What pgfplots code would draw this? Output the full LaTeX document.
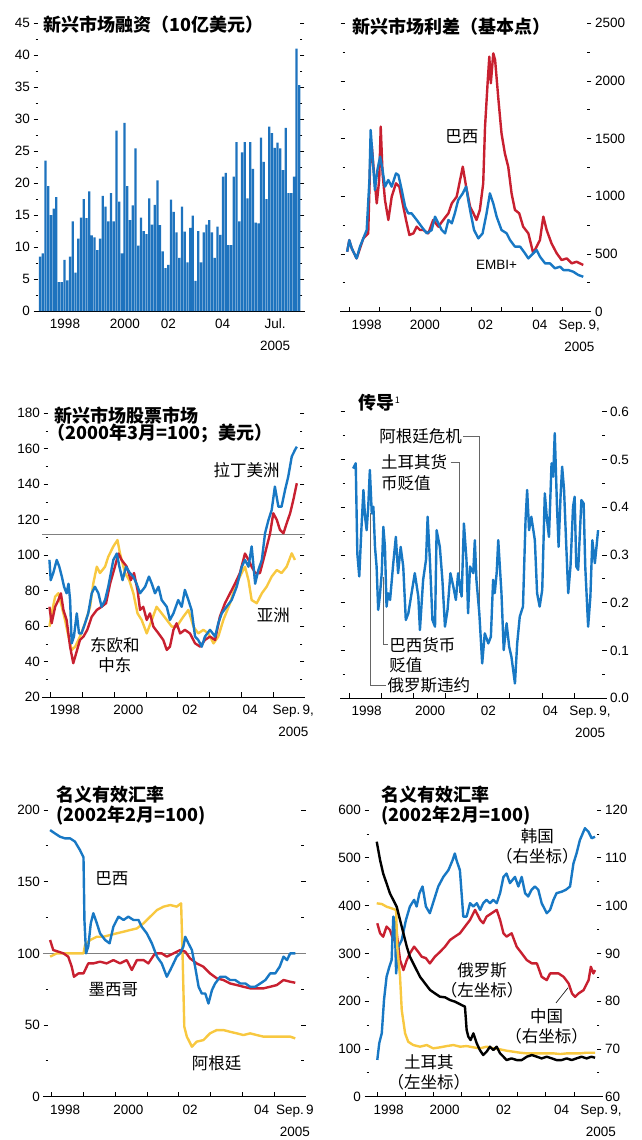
\documentclass[border=0pt]{standalone}
\usepackage{fontspec}
\setmainfont{Liberation Sans}
\newfontfamily\cjk{Noto Sans CJK SC}
\usepackage{pgfplots}
\pgfplotsset{compat=1.18}

\definecolor{ecoblue}{HTML}{1878C4}
\definecolor{ecored}{HTML}{C82030}
\definecolor{ecoyellow}{HTML}{F8C840}
\definecolor{barblue}{HTML}{1E73BE}

\newcommand\numfont{\fontsize{13.5}{22}\selectfont}
\newcommand\titlefont{\cjk\bfseries\fontsize{18}{20}\selectfont}
\newcommand\labfont{\cjk\fontsize{16.5}{20}\selectfont}

\tikzset{leader/.style={gray!80!black, line width=0.7pt}}
\pgfplotsset{
  econ/.style={
    scale only axis, clip=false,
    axis line style={draw=none},
    every tick/.style={black, line width=0.8pt},
    ytick align=outside,
    major tick length=4.5pt, minor tick length=2.5pt,
    minor y tick num=1,
    ytick pos=both,
    xtick=\empty,
    tick label style={font=\numfont, /pgf/number format/assume math mode=true},
    /pgf/number format/1000 sep={},
    extra x tick style={major tick length=0pt,
      xticklabel style={align=center, anchor=north, inner sep=0pt, yshift=-8pt}},
  },
  eline/.style={line width=2.4pt, line join=round, mark=none},
}
% base line, drawn a little wider than the plot area
\newcommand\baseaxis[2]{\draw[line width=0.9pt, shorten <=-#1pt, shorten >=-#2pt] (rel axis cs:0,0) -- (rel axis cs:1,0);}
% year boundary ticks, pointing up from the base line
\newcommand\yearticks{\pgfplotsinvokeforeach{1998,...,2005}{\draw[line width=0.8pt] ({axis cs:##1,0}|-{rel axis cs:0,0}) -- ++(0pt,5pt);}}

\begin{document}
\begin{tikzpicture}
\useasboundingbox (0,0) rectangle (641pt,-1140pt);

% ---------- emerging-market financing (bars)
\begin{axis}[econ, at={(38pt,-311pt)}, anchor=south west, width=262pt, height=288pt,
  xmin=-0.73, xmax=95.24, ymin=0, ymax=45, ytick={0,5,...,45}, yticklabel pos=left,
  extra x ticks={9.16,31.1,47.0,66.9,86.1},
  extra x tick labels={1998,2000,02,04,{Jul.\\2005}}]
\baseaxis{3}{5}
\addplot[ybar, bar width=2.25pt, fill=barblue, draw=none] coordinates {
(0,8.5)(1,9)(2,23.5)(3,19.5)(4,15)(5,16)(6,17.8)(7,4.5)(8,4.5)(9,8)
(10,4.8)(11,8.5)(12,14)(13,6)(14,11.3)(15,14.6)(16,17.5)(17,14.5)(18,18.7)(19,11.8)
(20,11.5)(21,9.5)(22,11.3)(23,18)(24,16.3)(25,14)(26,18.4)(27,14)(28,28.2)(29,17.1)
(30,9)(31,29.4)(32,19.5)(33,14.2)(34,16.5)(35,25.4)(36,10.2)(37,14.6)(38,12.5)(39,12)
(40,17.6)(41,13.5)(42,16.6)(43,20.4)(44,13.4)(45,9.3)(46,6.7)(47,7.2)(48,17.4)(49,15.5)
(50,12.3)(51,8.3)(52,16.3)(53,12.4)(54,7.6)(55,13)(56,14.9)(57,4.7)(58,12.5)(59,7.6)
(60,12.3)(61,13.5)(62,14.2)(63,12.3)(64,8.3)(65,13.2)(66,11.9)(67,21)(68,21.6)(69,10.3)
(70,10.3)(71,21)(72,26.4)(73,14)(74,24.8)(75,26.4)(76,17.6)(77,26.4)(78,22.2)(79,13.8)
(80,13.7)(81,27.1)(82,23.3)(83,17.5)(84,28.8)(85,27.8)(86,25.5)(87,26.3)(88,25.4)(89,22)
(90,28.6)(91,18.4)(92,18.4)(93,21)(94,41)(95,35.3)};
\node[anchor=west, font=\titlefont, fill=white, inner sep=1pt] at (rel axis cs:0.015,0.995) {新兴市场融资（10亿美元）};
\end{axis}

% ---------- spreads
\begin{axis}[econ, at={(345pt,-311.7pt)}, anchor=south west, width=242pt, height=288.4pt,
  xmin=1997.859, xmax=2005.793, ymin=0, ymax=2500, ytick={0,500,...,2500}, yticklabel pos=right,
  extra x ticks={1998.57,2000.48,2002.47,2004.25,2005.54},
  extra x tick labels={1998,2000,02,04,{Sep.\,9,\\2005}}]
\baseaxis{5}{4}
\yearticks
\addplot[eline, ecored] coordinates {
(1997.93,520)(1998.00,620)(1998.08,549)(1998.24,462)(1998.46,636)(1998.62,679)(1998.68,1257)
(1998.73,1460)(1998.81,1199)(1998.90,939)(1998.98,1142)(1999.03,1604)(1999.09,1199)(1999.17,968)
(1999.28,795)(1999.39,997)(1999.53,1113)(1999.64,1084)(1999.75,939)(1999.86,795)(1999.97,665)
(2000.10,679)(2000.21,737)(2000.32,708)(2000.43,708)(2000.59,679)(2000.75,795)(2000.92,737)
(2001.08,795)(2001.25,853)(2001.36,939)(2001.52,997)(2001.72,1257)(2001.83,1084)(2001.96,910)
(2002.07,853)(2002.17,795)(2002.28,882)(2002.39,1113)(2002.45,1604)(2002.54,2009)(2002.59,2211)
(2002.64,1980)(2002.72,2240)(2002.78,2182)(2002.89,1835)(2002.99,1546)(2003.10,1373)(2003.21,1257)
(2003.32,1026)(2003.43,882)(2003.57,853)(2003.70,737)(2003.87,679)(2004.03,506)(2004.14,564)
(2004.25,621)(2004.36,824)(2004.47,708)(2004.63,592)(2004.80,506)(2004.96,448)(2005.13,462)
(2005.29,419)(2005.45,433)(2005.67,405)};
\addplot[eline, ecoblue] coordinates {
(1997.93,520)(1998.00,620)(1998.08,549)(1998.24,462)(1998.35,564)(1998.46,636)(1998.57,708)
(1998.66,1142)(1998.70,1575)(1998.77,1315)(1998.84,1055)(1998.92,1228)(1999.01,1344)(1999.09,1228)
(1999.17,1084)(1999.28,1142)(1999.39,1084)(1999.53,1199)(1999.61,1185)(1999.72,1055)(1999.83,910)
(1999.93,853)(2000.04,853)(2000.21,795)(2000.37,737)(2000.54,679)(2000.70,708)(2000.81,824)
(2000.92,766)(2001.03,708)(2001.14,679)(2001.25,795)(2001.36,766)(2001.46,853)(2001.57,968)
(2001.72,1026)(2001.83,1084)(2001.90,968)(2001.98,853)(2002.09,708)(2002.23,636)(2002.37,679)
(2002.50,853)(2002.61,1026)(2002.72,939)(2002.83,824)(2002.99,708)(2003.16,679)(2003.27,621)
(2003.43,564)(2003.60,564)(2003.76,506)(2003.87,462)(2004.03,506)(2004.14,535)(2004.25,477)
(2004.42,419)(2004.58,419)(2004.74,376)(2004.91,390)(2005.02,361)(2005.18,361)(2005.34,347)
(2005.51,318)(2005.67,303)};
\node[anchor=west, font=\titlefont, fill=white, inner sep=1pt] at (rel axis cs:0.025,0.99) {新兴市场利差（基本点）};
\node[font=\labfont] at (axis cs:2001.69,1517) {巴西};
\node[font=\numfont] at (axis cs:2002.83,405) {EMBI+};
\end{axis}

% ---------- equity markets
\begin{axis}[econ, at={(48pt,-697.3pt)}, anchor=south west, width=252pt, height=284pt,
  xmin=1997.915, xmax=2005.84, ymin=20, ymax=180, ytick={20,40,...,180}, yticklabel pos=left,
  extra x ticks={1998.45,2000.44,2002.38,2004.27,2005.63},
  extra x tick labels={1998,2000,02,04,{Sep.\,9,\\2005}}]
\baseaxis{6}{5}
\yearticks
\draw[gray, line width=0.8pt, shorten <=-6pt, shorten >=-5pt] (axis cs:1997.915,112) -- (axis cs:2005.84,112);
\addplot[eline, ecoyellow] coordinates {
(1997.96,59.8)(1998.03,67.3)(1998.14,76.7)(1998.24,78.6)(1998.35,71)(1998.45,63.6)(1998.56,54.2)
(1998.66,46.7)(1998.77,48.5)(1998.92,54.2)(1999.08,61.7)(1999.24,71.1)(1999.34,84.2)(1999.45,93.6)
(1999.55,90)(1999.71,93.6)(1999.81,99.2)(1999.97,105)(2000.10,108.6)(2000.18,101)(2000.34,90)
(2000.47,86)(2000.60,78.6)(2000.73,67.3)(2000.86,63.6)(2001.02,56)(2001.18,63.6)(2001.33,71)
(2001.49,67.3)(2001.65,63.6)(2001.81,59.8)(2001.96,59.8)(2002.17,65.4)(2002.33,69.2)(2002.49,59.8)
(2002.64,56)(2002.80,58)(2002.96,56)(2003.12,50.4)(2003.27,54.2)(2003.43,63.6)(2003.64,73)
(2003.80,82.3)(2003.95,88)(2004.11,93.6)(2004.22,86)(2004.32,74.8)(2004.48,73)(2004.64,78.6)
(2004.79,82.3)(2004.95,88)(2005.11,91.7)(2005.26,90)(2005.42,93.6)(2005.58,101.1)(2005.68,97.4)};
\addplot[eline, ecored] coordinates {
(1997.96,71)(1998.03,61.7)(1998.14,71)(1998.24,74.8)(1998.32,78.6)(1998.40,69.2)(1998.50,63.6)
(1998.61,48.5)(1998.71,39.2)(1998.80,44.8)(1998.92,52.3)(1999.03,54.2)(1999.15,58)(1999.29,65.4)
(1999.45,69.2)(1999.60,71)(1999.74,73)(1999.87,84.2)(2000.02,93.6)(2000.13,101)(2000.23,97.4)
(2000.39,93.6)(2000.52,86)(2000.62,90)(2000.73,80.5)(2000.81,69.2)(2000.91,71)(2001.02,63.6)
(2001.12,67.3)(2001.23,59.8)(2001.39,56)(2001.54,52.3)(2001.65,46.7)(2001.75,48.5)(2001.86,58)
(2001.96,61.7)(2002.07,56)(2002.22,58)(2002.38,56)(2002.54,50.4)(2002.70,48.5)(2002.85,52.3)
(2003.01,54.2)(2003.17,52.3)(2003.32,65.4)(2003.48,73)(2003.64,78.6)(2003.80,84.2)(2003.95,90)
(2004.11,101)(2004.22,97.4)(2004.32,93.6)(2004.43,90)(2004.58,90)(2004.74,101)(2004.90,112.4)
(2005.00,123.7)(2005.11,120)(2005.21,114.3)(2005.32,112.4)(2005.42,118)(2005.53,123.7)
(2005.63,131.2)(2005.74,140.6)};
\addplot[eline, ecoblue] coordinates {
(1997.96,97.4)(1998.00,86)(1998.08,90)(1998.19,97.4)(1998.27,93.6)(1998.35,88)(1998.42,82.3)
(1998.50,78.6)(1998.56,84)(1998.61,74.8)(1998.66,50.4)(1998.73,54.2)(1998.82,67.3)(1998.89,56)
(1998.97,56)(1999.08,61.7)(1999.18,67.3)(1999.29,78.6)(1999.39,82.3)(1999.50,78.6)(1999.60,71)
(1999.71,74.8)(1999.81,82.3)(1999.97,97.4)(2000.08,101)(2000.16,93.6)(2000.26,86)(2000.37,93.6)
(2000.49,90)(2000.60,88)(2000.70,84)(2000.81,78.6)(2000.97,82.3)(2001.09,88)(2001.18,84)
(2001.28,78.6)(2001.39,82.3)(2001.49,74.8)(2001.65,71)(2001.75,63.6)(2001.86,67.3)(2002.01,74.8)
(2002.12,71)(2002.22,80.5)(2002.33,74.8)(2002.43,69.2)(2002.54,54.2)(2002.64,52.3)(2002.75,48.5)
(2002.85,54.2)(2003.01,58)(2003.17,54.2)(2003.27,61.7)(2003.38,67.3)(2003.53,71)(2003.69,74.8)
(2003.85,82.3)(2004.01,93.6)(2004.11,97.4)(2004.22,93.6)(2004.32,105)(2004.43,84)(2004.53,91.7)
(2004.64,97.4)(2004.74,112.4)(2004.85,120)(2004.95,125.5)(2005.05,138.7)(2005.16,127.4)
(2005.26,127.4)(2005.37,136.8)(2005.47,144.3)(2005.58,155.6)(2005.68,159.3)(2005.74,161.2)};
\node[anchor=west, font=\titlefont, fill=white, inner sep=1pt] at (rel axis cs:0.02,0.993) {新兴市场股票市场};
\node[anchor=west, font=\titlefont, inner sep=1pt] at (rel axis cs:-0.005,0.928) {（2000年3月=100；美元）};
\node[font=\labfont] at (axis cs:2004.16,148) {拉丁美洲};
\node[font=\labfont] at (axis cs:2005.0,66.4) {亚洲};
\node[font=\labfont, align=center] at (axis cs:2000.02,43.9) {东欧和\\中东};
\end{axis}

% ---------- contagion
\begin{axis}[econ, at={(345pt,-698.3pt)}, anchor=south west, width=257pt, height=286.6pt,
  xmin=1997.866, xmax=2005.872, ymin=0, ymax=0.6, ytick={0,0.1,...,0.6}, yticklabel pos=right,
  yticklabel style={/pgf/number format/.cd, fixed, fixed zerofill, precision=1},
  extra x ticks={1998.54,2000.52,2002.33,2004.26,2005.5},
  extra x tick labels={1998,2000,02,04,{Sep.\,9,\\2005}}]
\baseaxis{5}{1}
\yearticks
\draw[leader] (axis cs:1998.66,0.387) -- (axis cs:1998.66,0.028) -- (axis cs:1999.14,0.028);
\draw[leader] (axis cs:1999.06,0.255) -- (axis cs:1999.06,0.112) -- (axis cs:1999.19,0.112);
\draw[leader] (axis cs:2001.16,0.495) -- (axis cs:2001.42,0.495) -- (axis cs:2001.42,0.220);
\draw[leader] (axis cs:2001.55,0.548) -- (axis cs:2002.05,0.548) -- (axis cs:2002.05,0.178);
\addplot[eline, ecoblue] coordinates {
(1998.12,0.481)(1998.20,0.492)(1998.25,0.303)(1998.31,0.255)(1998.38,0.359)(1998.44,0.436)
(1998.49,0.380)(1998.54,0.352)(1998.59,0.401)(1998.64,0.478)(1998.70,0.387)(1998.75,0.401)
(1998.80,0.317)(1998.85,0.276)(1998.90,0.185)(1998.95,0.213)(1999.01,0.262)(1999.06,0.359)
(1999.11,0.317)(1999.16,0.192)(1999.21,0.220)(1999.27,0.206)(1999.37,0.283)(1999.45,0.338)
(1999.52,0.262)(1999.60,0.317)(1999.68,0.276)(1999.76,0.164)(1999.84,0.178)(1999.94,0.220)
(2000.04,0.262)(2000.15,0.213)(2000.20,0.143)(2000.30,0.248)(2000.39,0.290)(2000.44,0.380)
(2000.51,0.290)(2000.59,0.164)(2000.67,0.150)(2000.72,0.352)(2000.82,0.317)(2000.90,0.248)
(2000.98,0.150)(2001.06,0.185)(2001.15,0.262)(2001.24,0.234)(2001.32,0.206)(2001.39,0.262)
(2001.50,0.213)(2001.57,0.366)(2001.65,0.290)(2001.70,0.178)(2001.76,0.276)(2001.86,0.262)
(2001.91,0.331)(2001.96,0.248)(2002.05,0.178)(2002.14,0.073)(2002.22,0.136)(2002.33,0.115)
(2002.41,0.129)(2002.48,0.248)(2002.53,0.220)(2002.59,0.262)(2002.64,0.331)(2002.74,0.220)
(2002.81,0.101)(2002.90,0.157)(2002.98,0.108)(2003.05,0.087)(2003.16,0.031)(2003.23,0.115)
(2003.31,0.171)(2003.41,0.192)(2003.49,0.373)(2003.54,0.436)(2003.60,0.352)(2003.67,0.380)
(2003.78,0.331)(2003.85,0.220)(2003.93,0.192)(2004.01,0.227)(2004.09,0.429)(2004.16,0.373)
(2004.22,0.338)(2004.30,0.492)(2004.35,0.464)(2004.40,0.555)(2004.47,0.401)(2004.52,0.317)
(2004.58,0.422)(2004.63,0.485)(2004.69,0.436)(2004.76,0.317)(2004.82,0.220)(2004.89,0.276)
(2004.97,0.401)(2005.02,0.422)(2005.07,0.276)(2005.13,0.269)(2005.23,0.415)(2005.30,0.408)
(2005.35,0.276)(2005.44,0.150)(2005.51,0.213)(2005.57,0.331)(2005.65,0.283)(2005.70,0.317)
(2005.75,0.352)};
\node[anchor=west, font=\titlefont] at (rel axis cs:0.04,1.03) {传导\raisebox{6pt}{\mdseries\fontsize{9}{9}\selectfont 1}};
\node[anchor=west, font=\labfont, inner sep=1pt] at (axis cs:1998.90,0.548) {阿根廷危机};
\node[anchor=west, font=\labfont, inner sep=1pt] at (axis cs:1998.95,0.495) {土耳其货};
\node[anchor=west, font=\labfont, inner sep=1pt] at (axis cs:1998.95,0.450) {币贬值};
\node[anchor=west, font=\labfont, inner sep=1pt] at (axis cs:1999.21,0.112) {巴西货币};
\node[anchor=west, font=\labfont, inner sep=1pt] at (axis cs:1999.21,0.070) {贬值};
\node[anchor=west, font=\labfont, inner sep=1pt] at (axis cs:1999.16,0.028) {俄罗斯违约};
\end{axis}

% ---------- Latin American NEER
\begin{axis}[econ, at={(48pt,-1096.7pt)}, anchor=south west, width=253pt, height=286.7pt,
  xmin=1997.884, xmax=2005.84, ymin=0, ymax=200, ytick={0,50,...,200}, yticklabel pos=left,
  extra x ticks={1998.42,2000.41,2002.35,2004.6,2005.65},
  extra x tick labels={1998,2000,02,04,{Sep.\,9\\2005}}]
\baseaxis{5}{5}
\yearticks
\draw[gray, line width=0.8pt, shorten <=-5pt, shorten >=-5pt] (axis cs:1997.884,100) -- (axis cs:2005.84,100);
\addplot[eline, ecoyellow] coordinates {
(1997.95,97.7)(1998.16,100)(1998.47,100)(1998.79,100)(1999.00,100)(1999.05,105.8)(1999.21,109.3)
(1999.42,111.6)(1999.63,111.6)(1999.84,112.8)(2000.05,114)(2000.26,115.1)(2000.47,116.3)
(2000.68,117.4)(2000.89,121)(2001.10,125.6)(2001.31,130.2)(2001.52,132.6)(2001.73,133.7)
(2001.93,132.6)(2002.07,134.9)(2002.12,95.3)(2002.17,48.8)(2002.25,41.9)(2002.41,34.9)
(2002.56,38.4)(2002.77,39.5)(2002.98,44.2)(2003.19,46.5)(2003.40,46.5)(2003.61,45.3)(2003.82,44.2)
(2004.03,43)(2004.24,44.2)(2004.45,43)(2004.66,41.9)(2004.87,41.9)(2005.08,41.9)(2005.29,41.9)
(2005.50,41.9)(2005.66,40.7)};
\addplot[eline, ecored] coordinates {
(1997.95,109.3)(1998.05,102.3)(1998.21,101.2)(1998.37,100)(1998.52,97.7)(1998.63,90.7)(1998.70,83.7)
(1998.84,86)(1999.00,86)(1999.15,93)(1999.31,93)(1999.52,94.2)(1999.73,93)(1999.94,95.3)
(2000.15,93)(2000.36,95.3)(2000.52,88.4)(2000.68,95.3)(2000.89,95.3)(2001.04,93)(2001.25,100)
(2001.46,100)(2001.62,97.7)(2001.83,100)(2002.04,102.3)(2002.20,101.2)(2002.35,96.5)(2002.56,93)
(2002.77,90.7)(2002.98,86)(2003.19,82.6)(2003.40,81.4)(2003.61,79)(2003.82,77.9)(2004.03,76.7)
(2004.24,75.6)(2004.45,75.6)(2004.66,75.6)(2004.87,76.7)(2005.08,77.9)(2005.29,81.4)(2005.50,80.2)
(2005.66,79.5)};
\addplot[eline, ecoblue] coordinates {
(1997.95,186)(1998.10,183.7)(1998.26,181.4)(1998.42,180.2)(1998.58,180.2)(1998.73,178)(1998.89,172)
(1999.00,167)(1999.03,123)(1999.08,100)(1999.15,104.7)(1999.23,121)(1999.31,128)(1999.42,121)
(1999.52,114)(1999.68,109.3)(1999.82,107)(1999.94,118.6)(2000.10,125.6)(2000.26,123.3)(2000.41,125.6)
(2000.57,123.3)(2000.73,123.3)(2000.83,118.6)(2000.99,114)(2001.15,107)(2001.31,97.7)(2001.46,93)
(2001.62,83.7)(2001.73,88.4)(2001.83,93)(2001.93,97.7)(2002.04,100)(2002.14,104.7)(2002.20,111.6)
(2002.30,107)(2002.41,102.3)(2002.51,90.7)(2002.62,76.7)(2002.72,72)(2002.83,72)(2002.93,65)
(2003.04,74.4)(2003.14,79)(2003.30,83.7)(2003.46,83.7)(2003.61,81.4)(2003.77,81.4)(2003.93,79)
(2004.09,79)(2004.24,76.7)(2004.40,76.7)(2004.56,79)(2004.72,81.4)(2004.87,86)(2005.03,86)
(2005.17,90.7)(2005.29,97.7)(2005.40,95.3)(2005.50,100)(2005.66,100)};
\node[anchor=west, font=\titlefont] at (rel axis cs:0.02,1.052) {名义有效汇率};
\node[anchor=west, font=\titlefont] at (rel axis cs:0.02,0.982) {(2002年2月=100)};
\node[font=\labfont] at (axis cs:1999.89,152.4) {巴西};
\node[font=\labfont] at (axis cs:1999.94,74.4) {墨西哥};
\node[font=\labfont] at (axis cs:2003.19,23.3) {阿根廷};
\end{axis}

% ---------- Asian / other NEER, right scale
\begin{axis}[econ, at={(369pt,-1096.7pt)}, anchor=south west, width=228pt, height=286.7pt,
  xmin=1997.705, xmax=2005.819, ymin=60, ymax=120, ytick={60,70,...,120},
  ytick pos=right, yticklabel pos=right,
  extra x ticks={1998.4,2000.4,2002.5,2004.56,2005.8},
  extra x tick labels={1998,2000,02,04,{\hspace*{9pt}Sep.\,9,\\\hspace*{9pt}2005}}]
\baseaxis{1}{6}
\yearticks
\addplot[eline, ecored] coordinates {
(1998.00,96.3)(1998.10,94.2)(1998.21,93.5)(1998.33,95.6)(1998.45,94.9)(1998.57,92.8)(1998.69,94.2)
(1998.81,88.6)(1998.93,86.5)(1999.05,88.6)(1999.16,90)(1999.31,91.4)(1999.46,90.3)(1999.58,89.3)
(1999.73,89)(1999.87,87.9)(2000.05,89.3)(2000.23,90.3)(2000.41,91.4)(2000.59,92.8)(2000.76,93.5)
(2000.94,94.2)(2001.12,95.6)(2001.30,97)(2001.48,99.1)(2001.66,97)(2001.77,96.3)(2001.89,97.7)
(2002.07,98.4)(2002.25,99.1)(2002.37,97)(2002.49,94.2)(2002.60,93.5)(2002.78,94.2)(2002.96,91.4)
(2003.14,90)(2003.32,88.6)(2003.50,87.9)(2003.68,87.9)(2003.85,85.1)(2004.03,84.4)(2004.15,85.8)
(2004.27,85.8)(2004.45,85.8)(2004.63,85.1)(2004.81,83.7)(2004.93,81.6)(2005.04,80.9)(2005.16,81.6)
(2005.34,82.3)(2005.52,84.4)(2005.60,87.2)(2005.69,85.8)(2005.75,86.5)};
\addplot[eline, ecoblue] coordinates {
(1998.00,67.7)(1998.07,71.2)(1998.16,73.3)(1998.24,80.3)(1998.33,85.1)(1998.43,87.2)(1998.51,88.6)
(1998.57,97.7)(1998.62,97)(1998.67,85.8)(1998.75,91.4)(1998.87,92.8)(1999.02,97)(1999.16,99.8)
(1999.31,101.2)(1999.40,99.8)(1999.50,102.6)(1999.61,104)(1999.73,99.8)(1999.87,98.4)(2000.02,101.2)
(2000.17,104)(2000.35,106)(2000.53,107.4)(2000.68,109.5)(2000.76,110.9)(2000.82,109.5)(2000.94,107.4)
(2001.00,102.6)(2001.06,97.7)(2001.18,97.7)(2001.30,100.5)(2001.42,99.8)(2001.54,100.5)(2001.66,99.1)
(2001.77,100.5)(2001.89,101.2)(2002.01,100.5)(2002.13,101.2)(2002.25,100.5)(2002.37,102.6)
(2002.49,106)(2002.60,106.7)(2002.72,104.7)(2002.90,106)(2003.02,104)(2003.14,106)(2003.26,102.6)
(2003.37,101.9)(2003.49,103.3)(2003.61,104)(2003.73,103.3)(2003.85,100.5)(2004.03,98.4)(2004.15,99.1)
(2004.27,101.2)(2004.38,102.6)(2004.56,102.9)(2004.71,103.3)(2004.86,104)(2004.98,108.8)
(2005.09,110.9)(2005.21,113.7)(2005.39,116.2)(2005.51,115.5)(2005.63,114.1)(2005.75,114.4)};
\draw[leader, black, line width=0.6pt] (rel axis cs:0.820,0.327) -- (rel axis cs:0.873,0.380);
\node[anchor=west, font=\titlefont] at (rel axis cs:0.04,1.052) {名义有效汇率};
\node[anchor=west, font=\titlefont] at (rel axis cs:0.04,0.982) {(2002年2月=100)};
\node[font=\labfont, align=center] at (rel axis cs:0.739,0.872) {韩国\\（右坐标）};
\node[font=\labfont, align=center] at (rel axis cs:0.496,0.407) {俄罗斯\\（左坐标）};
\node[font=\labfont, align=center] at (rel axis cs:0.779,0.244) {中国\\（右坐标）};
\node[font=\labfont, align=center] at (rel axis cs:0.263,0.084) {土耳其\\（左坐标）};
\end{axis}

% ---------- left scale
\begin{axis}[econ, at={(369pt,-1096.7pt)}, anchor=south west, width=228pt, height=286.7pt,
  xmin=1997.705, xmax=2005.819, ymin=0, ymax=600, ytick={0,100,...,600},
  ytick pos=left, yticklabel pos=left]
\addplot[eline, ecoyellow] coordinates {
(1997.98,404.7)(1998.16,403.3)(1998.33,397.7)(1998.51,394.2)(1998.67,390.7)(1998.71,314)(1998.81,251)
(1998.87,181.4)(1998.99,132.6)(1999.10,115.1)(1999.28,108.1)(1999.52,104.7)(1999.76,108.1)
(1999.99,101.2)(2000.23,103.3)(2000.47,106)(2000.71,108.1)(2000.95,104.7)(2001.18,106)(2001.42,103.3)
(2001.65,101.2)(2001.89,104.7)(2002.13,101.2)(2002.37,99.1)(2002.60,96.3)(2002.84,94.2)(2003.08,92.1)
(2003.32,90.7)(2003.56,90.7)(2003.79,90.7)(2004.03,90.7)(2004.27,90.7)(2004.51,89.3)(2004.75,90.7)
(2004.98,90.7)(2005.22,90.7)(2005.45,92.1)(2005.75,92.1)};
\addplot[eline, black] coordinates {
(1997.98,533.7)(1998.10,495)(1998.21,467)(1998.33,446.5)(1998.45,425.6)(1998.57,411.6)(1998.69,397.7)
(1998.81,369.8)(1998.93,341.9)(1999.05,314)(1999.16,293)(1999.34,272)(1999.52,251)(1999.70,237)
(1999.88,223.3)(2000.05,216.3)(2000.23,209.3)(2000.41,208)(2000.59,202.3)(2000.77,198.8)(2001.00,191.9)
(2001.12,188.4)(2001.18,139.5)(2001.24,125.6)(2001.32,118.6)(2001.42,132.6)(2001.54,111.6)
(2001.65,97.7)(2001.77,87.2)(2001.89,94.2)(2002.01,104.7)(2002.13,97.7)(2002.25,104.7)(2002.37,90.7)
(2002.49,83.7)(2002.60,76.7)(2002.78,80.2)(2002.96,76.7)(2003.14,76.7)(2003.32,83.7)(2003.50,87.2)
(2003.68,83.7)(2003.85,80.2)(2004.03,83.7)(2004.21,80.2)(2004.38,76.7)(2004.56,76.7)(2004.74,80.2)
(2004.92,76.7)(2005.09,80.2)(2005.27,83.7)(2005.45,80.2)(2005.62,83.7)(2005.75,81.6)};
\end{axis}
\end{tikzpicture}
\end{document}
